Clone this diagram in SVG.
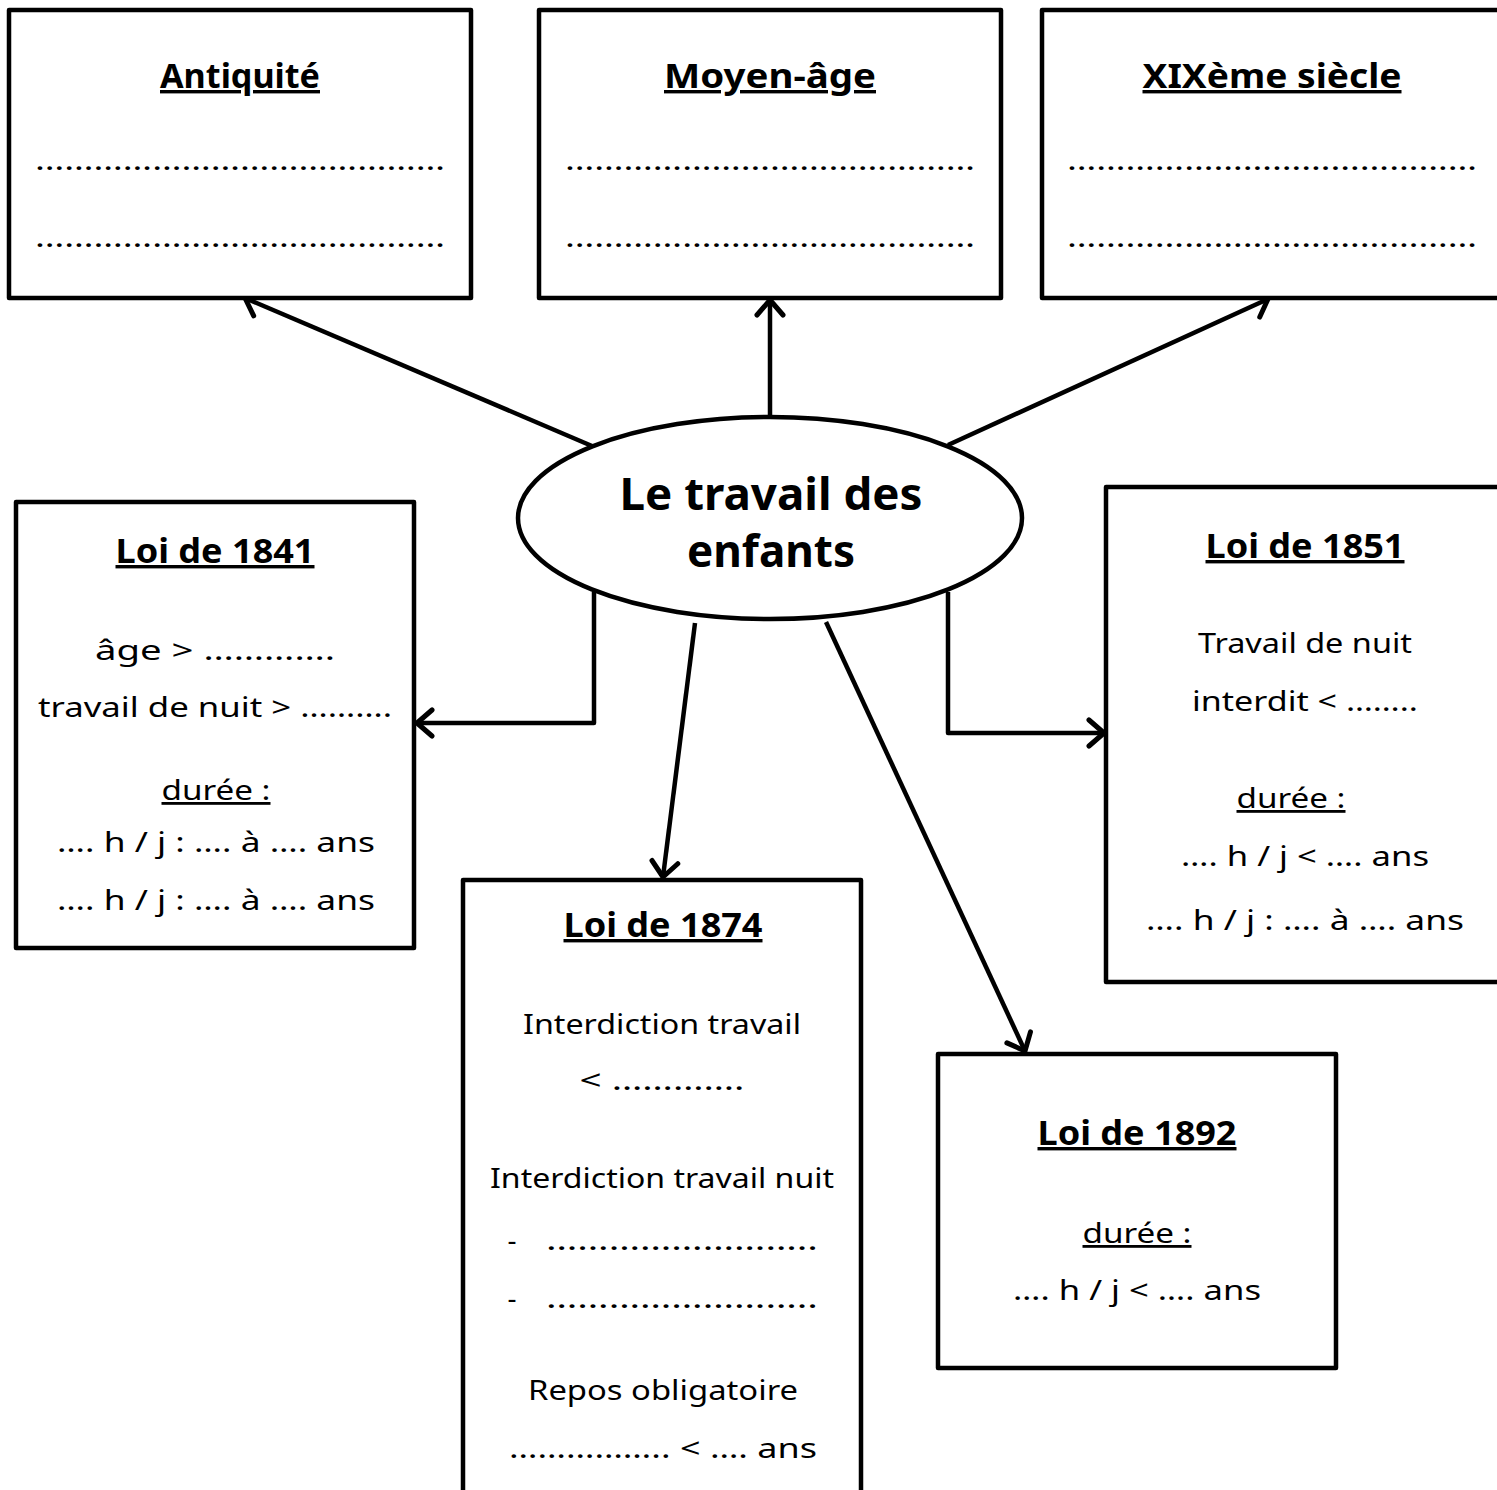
<svg xmlns="http://www.w3.org/2000/svg" width="1497" height="1490" viewBox="0 0 1497 1490">
<style>
.box{fill:#fff;stroke:#000;stroke-width:4.5;stroke-linejoin:round}
.con{fill:none;stroke:#000;stroke-width:4.5;stroke-linejoin:round}
text{font-family:"Century Gothic","URW Gothic","Noto Sans","DejaVu Sans",sans-serif;fill:#000;text-anchor:middle}
.h{font-size:34px;font-weight:bold;text-decoration:underline}
.t{font-size:28px}
.u{text-decoration:underline}
.c{font-size:44px;font-weight:bold}
</style>
<defs>
<marker id="arr" viewBox="0 0 26 32" refX="21" refY="16" markerWidth="26" markerHeight="32" markerUnits="userSpaceOnUse" orient="auto">
<path d="M6,3 L21,16 L6,29" fill="none" stroke="#000" stroke-width="5" stroke-linecap="round" stroke-linejoin="round"/>
</marker>
</defs>
<rect width="1497" height="1490" fill="#fff"/>
<g id="connectors">
<line class="con" x1="592" y1="446" x2="245" y2="298" marker-end="url(#arr)"/>
<line class="con" x1="770" y1="418" x2="770" y2="300" marker-end="url(#arr)"/>
<line class="con" x1="948" y1="445" x2="1268" y2="299" marker-end="url(#arr)"/>
<polyline class="con" points="594,592 594,723 417,723" marker-end="url(#arr)"/>
<polyline class="con" points="948,592 948,733 1104,733" marker-end="url(#arr)"/>
<line class="con" x1="695" y1="623" x2="663" y2="877" marker-end="url(#arr)"/>
<line class="con" x1="826" y1="622" x2="1025" y2="1051" marker-end="url(#arr)"/>
</g>
<g id="antiquite">
<rect class="box" x="9" y="10" width="462" height="288"/>
<text class="h" x="240" y="88" textLength="160" lengthAdjust="spacingAndGlyphs">Antiquité</text>
<text class="t" x="240" y="170" textLength="410" lengthAdjust="spacingAndGlyphs">……………………………………</text>
<text class="t" x="240" y="247" textLength="410" lengthAdjust="spacingAndGlyphs">……………………………………</text>
</g>
<g id="moyen-age">
<rect class="box" x="539" y="10" width="462" height="288"/>
<text class="h" x="770" y="88" textLength="212" lengthAdjust="spacingAndGlyphs">Moyen-âge</text>
<text class="t" x="770" y="170" textLength="410" lengthAdjust="spacingAndGlyphs">……………………………………</text>
<text class="t" x="770" y="247" textLength="410" lengthAdjust="spacingAndGlyphs">……………………………………</text>
</g>
<g id="xixeme">
<rect class="box" x="1042" y="10" width="480" height="288"/>
<text class="h" x="1272" y="88" textLength="259" lengthAdjust="spacingAndGlyphs">XIXème siècle</text>
<text class="t" x="1272" y="170" textLength="410" lengthAdjust="spacingAndGlyphs">……………………………………</text>
<text class="t" x="1272" y="247" textLength="410" lengthAdjust="spacingAndGlyphs">……………………………………</text>
</g>
<g id="centre">
<ellipse class="box" cx="770" cy="518" rx="252" ry="101"/>
<text class="c" x="771" y="510" textLength="303" lengthAdjust="spacingAndGlyphs">Le travail des</text>
<text class="c" x="771" y="567" textLength="168" lengthAdjust="spacingAndGlyphs">enfants</text>
</g>
<g id="loi1841">
<rect class="box" x="16" y="502" width="398" height="446"/>
<text class="h" x="215" y="563" textLength="199" lengthAdjust="spacingAndGlyphs">Loi de 1841</text>
<text class="t" x="215" y="660" textLength="240" lengthAdjust="spacingAndGlyphs">âge &gt; ………….</text>
<text class="t" x="215" y="717" textLength="354" lengthAdjust="spacingAndGlyphs">travail de nuit &gt; ……….</text>
<text class="t u" x="216" y="800" textLength="109" lengthAdjust="spacingAndGlyphs">durée :</text>
<text class="t" x="216" y="852" textLength="318" lengthAdjust="spacingAndGlyphs">…. h / j : …. à …. ans</text>
<text class="t" x="216" y="910" textLength="318" lengthAdjust="spacingAndGlyphs">…. h / j : …. à …. ans</text>
</g>
<g id="loi1851">
<rect class="box" x="1106" y="487" width="420" height="495"/>
<text class="h" x="1305" y="558" textLength="199" lengthAdjust="spacingAndGlyphs">Loi de 1851</text>
<text class="t" x="1305" y="653" textLength="214" lengthAdjust="spacingAndGlyphs">Travail de nuit</text>
<text class="t" x="1305" y="711" textLength="226" lengthAdjust="spacingAndGlyphs">interdit &lt; ……..</text>
<text class="t u" x="1291" y="808" textLength="109" lengthAdjust="spacingAndGlyphs">durée :</text>
<text class="t" x="1305" y="866" textLength="248" lengthAdjust="spacingAndGlyphs">…. h / j &lt; …. ans</text>
<text class="t" x="1305" y="930" textLength="318" lengthAdjust="spacingAndGlyphs">…. h / j : …. à …. ans</text>
</g>
<g id="loi1874">
<rect class="box" x="463" y="880" width="398" height="630"/>
<text class="h" x="663" y="937" textLength="199" lengthAdjust="spacingAndGlyphs">Loi de 1874</text>
<text class="t" x="662" y="1034" textLength="278" lengthAdjust="spacingAndGlyphs">Interdiction travail</text>
<text class="t" x="662" y="1090" textLength="165" lengthAdjust="spacingAndGlyphs">&lt; ………….</text>
<text class="t" x="662" y="1188" textLength="344" lengthAdjust="spacingAndGlyphs">Interdiction travail nuit</text>
<text class="t" x="512" y="1250">-</text>
<text class="t" x="682" y="1250" textLength="272" lengthAdjust="spacingAndGlyphs">……………………..</text>
<text class="t" x="512" y="1308">-</text>
<text class="t" x="682" y="1308" textLength="272" lengthAdjust="spacingAndGlyphs">……………………..</text>
<text class="t" x="663" y="1400" textLength="270" lengthAdjust="spacingAndGlyphs">Repos obligatoire</text>
<text class="t" x="663" y="1458" textLength="308" lengthAdjust="spacingAndGlyphs">…………….. &lt; …. ans</text>
</g>
<g id="loi1892">
<rect class="box" x="938" y="1054" width="398" height="314"/>
<text class="h" x="1137" y="1145" textLength="199" lengthAdjust="spacingAndGlyphs">Loi de 1892</text>
<text class="t u" x="1137" y="1243" textLength="109" lengthAdjust="spacingAndGlyphs">durée :</text>
<text class="t" x="1137" y="1300" textLength="248" lengthAdjust="spacingAndGlyphs">…. h / j &lt; …. ans</text>
</g>
</svg>
